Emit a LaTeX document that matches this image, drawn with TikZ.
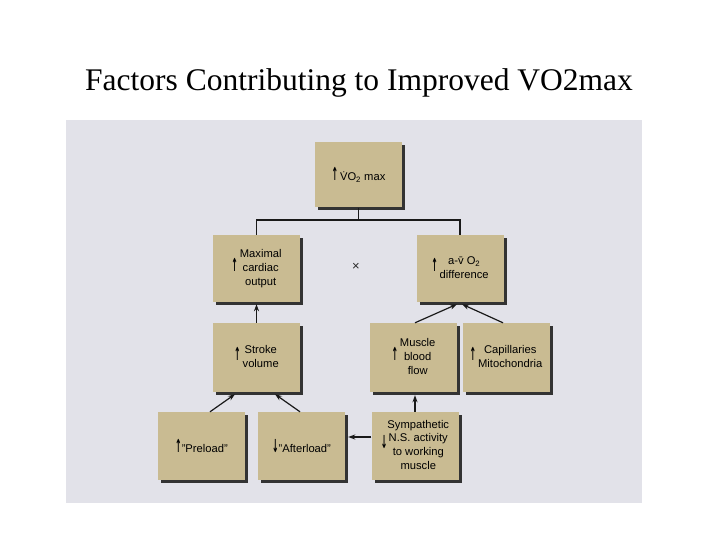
\documentclass[tikz,border=0pt]{standalone}
\usepackage{fontspec}
\usepackage{graphicx}
\setmainfont{Liberation Serif}
\setsansfont{Liberation Sans}
\newfontfamily\dejavu{DejaVu Sans Bold}
\usetikzlibrary{arrows.meta,shadows}
\definecolor{panel}{RGB}{226,226,233}
\definecolor{boxtan}{RGB}{201,187,146}
\newcommand{\uparr}{{\dejavu\scalebox{0.7}[1.6]{↑}}}
\newcommand{\dnarr}{{\dejavu\scalebox{0.7}[1.6]{↓}}}
\newcommand{\lines}[1]{\begin{tabular}{@{}c@{}}#1\end{tabular}}
\begin{document}
\begin{tikzpicture}[x=1pt,y=-1pt,
 box/.style={fill=boxtan, minimum width=87pt, minimum height=67pt, inner sep=0pt,
   font=\sffamily\fontsize{11.2}{13.8}\selectfont, text=black, align=center,
   drop shadow={shadow xshift=3pt, shadow yshift=-3pt, fill=black!80, opacity=1}},
 link/.style={line width=1.2pt, draw=black!90},
 arr/.style={link, -{Stealth[length=7pt,width=5pt]}}]
\useasboundingbox (0,0) rectangle (720,540);
\fill[white] (0,0) rectangle (720,540);
\fill[panel] (66,120) rectangle (642,503);
\node[font=\fontsize{31.5}{36}\selectfont] (title) at (359,83) {Factors Contributing to Improved VO2max};

\node[box, minimum height=65pt] (top) at (358.5,175) {\uparr\,\.{V}O\textsubscript{2} max};
\node[box] (co) at (256.5,268.5) {\uparr\,\lines{Maximal\\cardiac\\output}};
\node[box] (av) at (460,268.5) {\uparr\,\lines{a-\={v} O\textsubscript{2}\\difference}};
\node[font=\sffamily\fontsize{13}{15}\selectfont, text=black!85] (times) at (356,267) {×};
\node[box, minimum height=69pt] (sv) at (256.5,357.5) {\uparr\,\lines{Stroke\\volume}};
\node[box, minimum height=69pt] (mbf) at (413.5,357.5) {\uparr\,\lines{Muscle\\blood\\flow}};
\node[box, minimum height=69pt] (cap) at (506,357.5) {\uparr\,\lines{Capillaries\\Mitochondria}};
\node[box, minimum height=68pt] (pre) at (201.5,446) {\uparr"Preload"};
\node[box, minimum height=68pt] (aft) at (301.5,446) {\dnarr"Afterload"};
\node[box, minimum height=68pt] (sym) at (415,446) {\dnarr\lines{Sympathetic\\N.S. activity\\to working\\muscle}};

% tree
\coordinate (tj) at (358.5,220);
\draw[link] (top.south) -- (tj);
\draw[link] (co.north) |- (tj) -| (av.north);

% arrows
\draw[arr] (sv.north) -- ([yshift=-2pt]co.south);
\draw[arr] ([xshift=8.5pt]pre.north) -- ([xshift=-21.5pt,yshift=-2pt]sv.south);
\draw[arr] ([xshift=-1.5pt]aft.north) -- ([xshift=18.5pt,yshift=-2pt]sv.south);
\draw[arr] ([yshift=9pt]sym.west) -- ([xshift=3pt,yshift=9pt]aft.east);
\draw[arr] (sym.north) -- ([xshift=1.5pt,yshift=-3pt]mbf.south);
\draw[arr] ([xshift=1.5pt]mbf.north) -- ([xshift=-3pt,yshift=-2pt]av.south);
\draw[arr] ([xshift=-3pt]cap.north) -- ([xshift=2pt,yshift=-2pt]av.south);
\end{tikzpicture}
\end{document}
